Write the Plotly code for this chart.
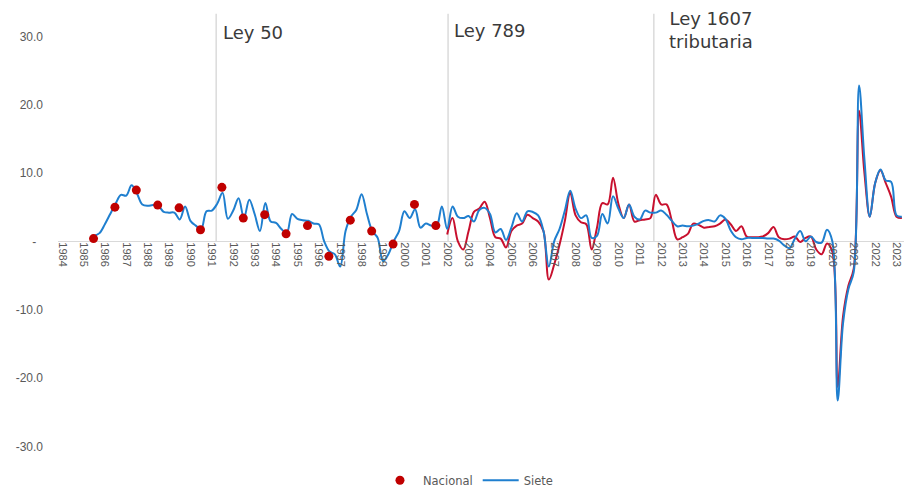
import plotly.graph_objects as go

# ---------------- data ----------------
# Nacional: annual values (plotted at mid-year) 1985-2001
nac_years = list(range(1985, 2002))
nac_annual = [0.4, 5.0, 7.5, 5.3, 4.9, 1.7, 7.9, 3.4, 3.9, 1.1,
              2.3, -2.2, 3.1, 1.5, -0.4, 5.4, 2.3]

# Siete: quarterly values starting 1985 Q3
siete_start = 1985.5
siete_q = [
    0.8, 1.2,                    # 1985
    2.5, 4.0, 5.5, 6.8,          # 1986
    6.7, 8.2, 7.0, 5.4,          # 1987
    5.2, 5.3, 5.2, 4.3,          # 1988
    4.2, 4.2, 3.2, 5.1,          # 1989
    3.0, 2.3, 1.8, 4.4,          # 1990
    4.5, 5.5, 7.1, 3.3,          # 1991
    4.5, 6.3, 3.4, 6.1,          # 1992
    4.0, 1.5, 5.6, 2.9,          # 1993
    2.7, 1.8, 1.2, 4.0,          # 1994
    3.3, 3.1, 3.0, 2.6,          # 1995
    2.5, 0.0, -1.5, -1.9,        # 1996
    -3.7, 1.5, 3.6, 4.6,         # 1997
    6.9, 4.0, 1.5, 0.5,          # 1998
    -2.9, -1.9, 0.0, 1.5,        # 1999
    4.4, 3.4, 4.7, 2.0,          # 2000
    2.6, 2.3, 2.2, 5.1,          # 2001
    1.8, 5.1, 3.6, 3.4,          # 2002
    3.7, 2.9, 4.6, 4.9,          # 2003
    4.0, 1.3, 1.8, 0.2,          # 2004
    2.0, 4.1, 2.9, 4.4,          # 2005
    4.3, 3.8, 1.5, -3.7,         # 2006
    0.0, 1.8, 4.5, 7.4,          # 2007
    4.8, 3.4, 3.8, 0.5,          # 2008
    0.8, 4.0, 2.6, 6.6,          # 2009
    4.8, 3.4, 5.4, 3.6,          # 2010
    3.2, 4.5, 4.2, 4.2,          # 2011
    4.5, 3.9, 3.0, 2.2,          # 2012
    2.3, 2.2, 2.3, 2.6,          # 2013
    3.0, 3.1, 2.9, 3.8,          # 2014
    3.3, 1.6, 0.6, 0.3,          # 2015
    0.5, 0.5, 0.5, 0.5,          # 2016
    0.4, 0.4, 0.1, -0.6,         # 2017
    -1.0, 0.4, 1.5, 0.0,         # 2018
    0.7, -0.1, -0.2, 1.7,        # 2019
    0.0, -23.3, -12.0, -7.0,     # 2020
    -4.5, 22.8, 12.0, 3.6,       # 2021
    8.5, 10.5, 8.9, 8.7,         # 2022
    3.8, 3.6,                    # 2023
]

# Nacional: quarterly values starting 2002 Q1
nac_q_start = 2002.0
nac_q = [
    1.0, 3.4, 0.0, -1.2,         # 2002
    1.5, 4.3, 4.8, 5.8,          # 2003
    3.4, 0.6, 0.4, -0.9,         # 2004
    1.5, 2.3, 2.6, 3.9,          # 2005
    3.4, 2.9, 1.5, -5.6,         # 2006
    -3.4, -0.5, 3.0, 7.1,        # 2007
    3.8, 2.8, 2.5, -1.2,         # 2008
    2.0, 5.6, 5.4, 9.3,          # 2009
    5.5, 3.4, 5.4, 2.9,          # 2010
    3.1, 3.2, 3.4, 6.8,          # 2011
    5.4, 5.4, 3.0, 0.3,          # 2012
    0.6, 1.1, 2.6, 2.4,          # 2013
    2.0, 2.1, 2.2, 2.6,          # 2014
    3.2, 2.5, 1.5, 2.2,          # 2015
    0.7, 0.6, 0.6, 0.7,          # 2016
    1.2, 2.1, 0.6, 0.3,          # 2017
    0.4, 0.7, -0.1, 0.5,         # 2018
    0.7, -1.2, -1.9, -0.3,       # 2019
    -1.5, -21.3, -11.0, -6.5,    # 2020
    -4.0, 19.1, 10.0, 3.6,       # 2021
    8.5, 10.4, 8.5, 6.5,         # 2022
    3.6, 3.4,                    # 2023
]

year_ticks = list(range(1984, 2024))
y_tickvals = [30, 20, 10, 0, -10, -20, -30]
y_ticktext = ["30.0", "20.0", "10.0", "-\u00a0\u00a0", "-10.0", "-20.0", "-30.0"]

laws = ["Ley 50", "Ley 789", "Ley 1607<br>tributaria"]
law_years = [1991.2, 2002.04, 2011.66]

# ---------------- figure ----------------
RED = "#c8102e"
BLUE = "#1f7fcf"
GREY = "#595959"

nac_x = [y + 0.47 for y in nac_years]
siete_x = [siete_start + 0.25 * i for i in range(len(siete_q))]
nacq_x = [nac_q_start + 0.25 * i for i in range(len(nac_q))]

YMIN, YMAX = -32, 34
S = 495 / 485  # vertical compensation for the capture

fig = go.Figure()
fig.add_trace(go.Scatter(
    x=nacq_x, y=nac_q, mode="lines", showlegend=False,
    line=dict(color=RED, width=2, shape="spline", smoothing=1),
    hoverinfo="skip"))
fig.add_trace(go.Scatter(
    x=siete_x, y=siete_q, mode="lines", name="Siete",
    line=dict(color=BLUE, width=2, shape="spline", smoothing=1)))
fig.add_trace(go.Scatter(
    x=nac_x, y=nac_annual, mode="markers", name="Nacional",
    marker=dict(color="#c00000", size=9)))

for yr in law_years:
    fig.add_shape(type="line", xref="x", yref="y", x0=yr, x1=yr, y0=0, y1=33.3,
                  line=dict(color="#c8c8c8", width=1), layer="below")

ann_font = dict(family="DejaVu Sans", size=18, color="#3a3a3a")
fig.add_annotation(x=law_years[0], y=30.6, xref="x", yref="y", text=laws[0],
                   showarrow=False, xanchor="left", yanchor="middle", xshift=5,
                   font=ann_font)
fig.add_annotation(x=law_years[1], y=30.9, xref="x", yref="y", text=laws[1],
                   showarrow=False, xanchor="left", yanchor="middle", xshift=4,
                   font=ann_font)
fig.add_annotation(x=2014.33, y=31.0, xref="x", yref="y", text=laws[2],
                   showarrow=False, xanchor="center", yanchor="middle", align="center",
                   font=ann_font)

fig.update_layout(
    width=904, height=round(485 * S),
    margin=dict(l=58, r=0, t=8.8 * S, b=27.4 * S),
    paper_bgcolor="white", plot_bgcolor="white",
    showlegend=True,
    legend=dict(orientation="h", x=0.484, xanchor="center", y=-0.045, yanchor="middle",
                font=dict(family="DejaVu Sans", size=11.5, color=GREY),
                itemwidth=36, traceorder="reversed"),
    xaxis=dict(range=[1983.81, 2023.35], tickmode="array", tickvals=year_ticks,
               ticktext=[str(y) for y in year_ticks], tickangle=90,
               tickfont=dict(family="Liberation Sans", size=11, color=GREY),
               showgrid=False, zeroline=False, showline=False,
               anchor="free", position=(0 - YMIN) / (YMAX - YMIN)),
    yaxis=dict(range=[YMIN, YMAX], tickmode="array", tickvals=y_tickvals,
               ticktext=y_ticktext, showgrid=False,
               zeroline=True, zerolinecolor="#d9d9d9", zerolinewidth=1,
               tickfont=dict(family="Liberation Sans", size=12, color=GREY),
               ticklabelstandoff=14, showline=False),
)

fig.write_html("out.html", config={"displayModeBar": False},
               post_script="document.body.style.margin='0px';document.body.style.overflow='hidden';")
